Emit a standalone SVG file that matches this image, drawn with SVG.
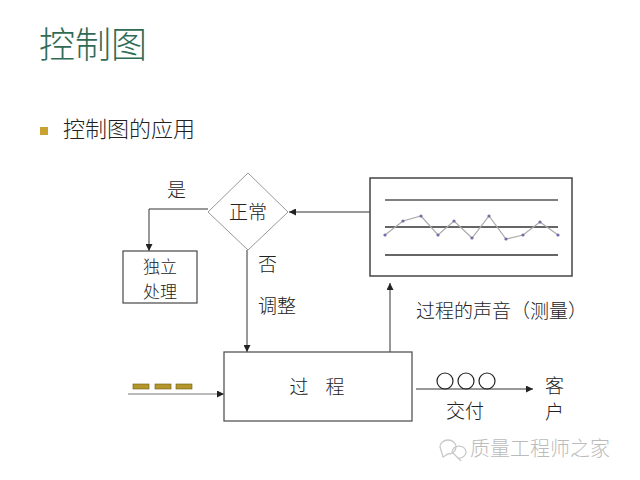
<svg xmlns="http://www.w3.org/2000/svg" width="640" height="480" viewBox="0 0 640 480">
<style>
text{font-family:"Noto Sans CJK SC","Noto Sans CJK JP",sans-serif;fill:#222;font-weight:300}
.lbl{font-size:19px}
.shape{fill:#fff;stroke:#555;stroke-width:1.3}
.conn{fill:none;stroke:#333;stroke-width:1}
</style>
<defs>
<marker id="ah" viewBox="0 0 10 10" refX="10" refY="5" markerWidth="7" markerHeight="7" orient="auto" markerUnits="userSpaceOnUse">
<path d="M0,0 L10,5 L0,10 z" fill="#222"/>
</marker>
</defs>
<rect width="640" height="480" fill="#fff"/>
<text x="39" y="58" style="font-size:36px;fill:#2f6b55">控制图</text>
<rect x="40" y="127" width="8" height="8" fill="#c9a230"/>
<text x="63" y="137" style="font-size:22px">控制图的应用</text>

<g id="connectors">
<path class="conn" d="M370,212 L289,212" marker-end="url(#ah)"/>
<path class="conn" d="M208,209 L149,209 L149,251" marker-end="url(#ah)"/>
<path class="conn" d="M247,250 L247,352" marker-end="url(#ah)"/>
<path class="conn" d="M390,352 L390,283" marker-end="url(#ah)"/>
<path class="conn" d="M128,394 L224,394" marker-end="url(#ah)" style="stroke:#777"/>
<path class="conn" d="M416,389 L533,389" marker-end="url(#ah)"/>
</g>

<g id="decision">
<polygon points="248,173 288,212 248,250 208,212" style="fill:#fff;stroke:#999;stroke-width:1"/>
<text x="248" y="219" class="lbl" text-anchor="middle">正常</text>
</g>
<text x="167" y="197" class="lbl">是</text>
<text x="258" y="271" class="lbl">否</text>
<text x="258" y="313" class="lbl">调整</text>

<g id="independent">
<rect x="123" y="251" width="74" height="52" class="shape"/>
<text x="160" y="273" style="font-size:17px" text-anchor="middle">独立</text>
<text x="160" y="298" style="font-size:17px" text-anchor="middle">处理</text>
</g>

<g id="chart">
<rect x="370" y="178" width="202" height="98" style="fill:#fff;stroke:#444;stroke-width:1.5"/>
<line x1="385" y1="200" x2="558" y2="200" stroke="#555" stroke-width="1.3"/>
<line x1="385" y1="227" x2="558" y2="227" stroke="#333" stroke-width="1.3"/>
<line x1="385" y1="255" x2="558" y2="255" stroke="#333" stroke-width="1.3"/>
<polyline points="385,235 403,221 421,216 438,235 454,221 472,238 489,216 506,239 523,235 540,222 558,235" fill="none" stroke="#aaa" stroke-width="1.2"/>
<g fill="#7a6aa8">
<circle cx="385" cy="235" r="1.6"/><circle cx="403" cy="221" r="1.6"/><circle cx="421" cy="216" r="1.6"/><circle cx="438" cy="235" r="1.6"/><circle cx="454" cy="221" r="1.6"/><circle cx="472" cy="238" r="1.6"/><circle cx="489" cy="216" r="1.6"/><circle cx="506" cy="239" r="1.6"/><circle cx="523" cy="235" r="1.6"/><circle cx="540" cy="222" r="1.6"/><circle cx="558" cy="235" r="1.6"/>
</g>
</g>
<text x="416" y="318" class="lbl">过程的声音（测量）</text>

<g id="process">
<rect x="224" y="352" width="188" height="69" class="shape"/>
<text x="299" y="394" class="lbl" text-anchor="middle">过</text>
<text x="335" y="394" class="lbl" text-anchor="middle">程</text>
</g>

<g id="input" fill="#b4962a" stroke="#6d5a14" stroke-width="0.6">
<rect x="133" y="384" width="16" height="5"/>
<rect x="155" y="384" width="16" height="5"/>
<rect x="176" y="384" width="16" height="5"/>
</g>

<g id="output" fill="none" stroke="#222" stroke-width="1.2">
<circle cx="445" cy="381" r="8"/>
<circle cx="466" cy="381" r="8"/>
<circle cx="487" cy="381" r="8"/>
</g>
<text x="465" y="418" class="lbl" text-anchor="middle">交付</text>
<g id="customer">
<text x="545" y="393" class="lbl">客</text>
<text x="545" y="419" class="lbl">户</text>
</g>

<g id="watermark" fill="none" stroke="#c8c8c8" stroke-width="1.3">
<path d="M440,447 a8,7 0 1,1 8,7 l-5,3 z"/>
<path d="M452,452 a7,6 0 1,1 6,6 l3,3 z"/>
</g>
<text x="470" y="456" style="font-size:20px;fill:#bbb">质量工程师之家</text>
</svg>
